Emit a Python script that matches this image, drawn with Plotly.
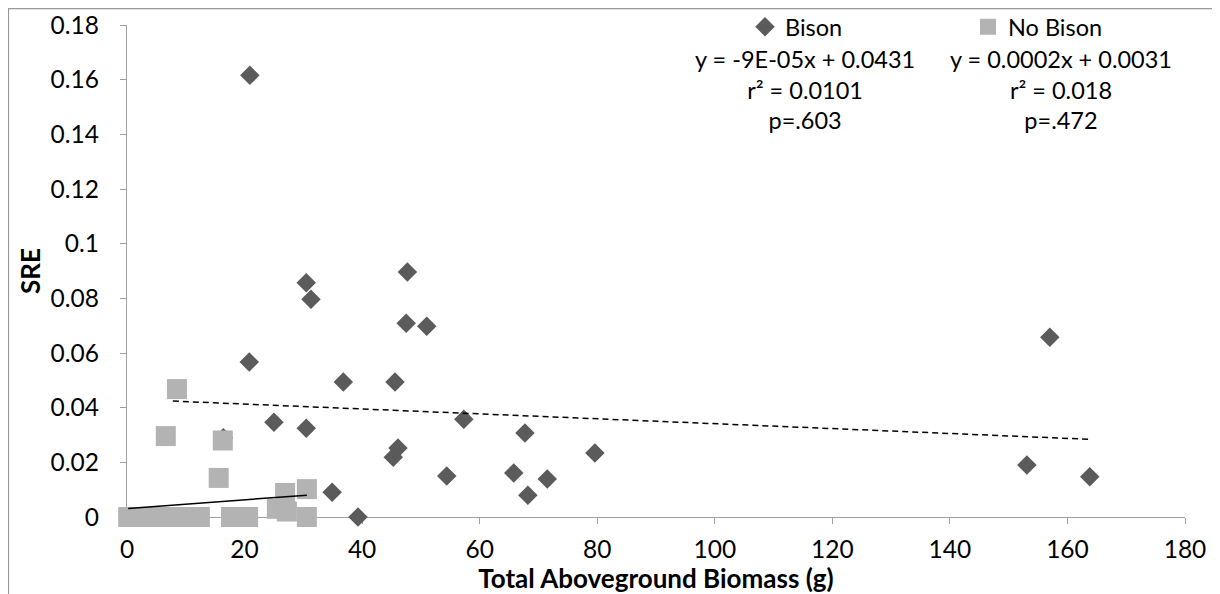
import plotly.graph_objects as go

# ---------------- data ----------------
x_tick_vals = [0, 20, 40, 60, 80, 100, 120, 140, 160, 180]
y_tick_vals = [0, 0.02, 0.04, 0.06, 0.08, 0.10, 0.12, 0.14, 0.16, 0.18]
y_tick_text = ["0", "0.02", "0.04", "0.06", "0.08", "0.1", "0.12", "0.14", "0.16", "0.18"]

bison_x = [7.8, 20.9, 20.8, 16.4, 25.0, 30.5, 31.3, 30.5, 36.8, 34.9, 39.3,
           47.7, 47.5, 51.0, 45.6, 57.3, 67.7, 79.6, 46.1, 45.3, 54.4, 65.8,
           71.5, 68.2, 157.0, 153.1, 163.8]
bison_y = [0.0, 0.1616, 0.0567, 0.029, 0.0347, 0.0857, 0.0797, 0.0325, 0.0494, 0.0091, 0.0,
           0.0896, 0.0709, 0.0698, 0.0494, 0.0358, 0.0307, 0.0234, 0.0252, 0.0219, 0.015, 0.0161,
           0.0139, 0.008, 0.0658, 0.019, 0.0147]

nobison_x = [0.2, 2.4, 4.6, 7.0, 9.3, 11.0, 12.4, 17.7, 19.2, 20.6,
             8.5, 6.6, 16.3, 15.6, 26.9, 30.6, 25.5, 27.2, 30.6]
nobison_y = [0.0, 0.0, 0.0, 0.0, 0.0, 0.0, 0.0, 0.0, 0.0, 0.0,
             0.0468, 0.0296, 0.028, 0.0143, 0.0088, 0.0102, 0.003, 0.002, 0.0]

# linear trend lines (slope, intercept)
bison_fit = (-0.0000897, 0.0431)
nobison_fit = (0.00016, 0.0031)

series_names = ["Bison", "No Bison"]
bison_stats = ["y = -9E-05x + 0.0431", "r\u00b2 = 0.0101", "p=.603"]
nobison_stats = ["y = 0.0002x + 0.0031", "r\u00b2 = 0.018", "p=.472"]

x_title = "Total Aboveground Biomass (g)"
y_title = "SRE"

# ---------------- style ----------------
FONT = "Lato"
DARK = "#5b5b5b"
LIGHT = "#b3b3b3"
AXIS = "#a0a0a0"

OFF = 8  # page body margin in the browser
W, H = 1220 - OFF, 594 - OFF
ML, MT = 127 - OFF, 25 - OFF
MR = W - (1185 - OFF)
MB = H - (517 - OFF)
PW, PH = W - ML - MR, H - MT - MB


def px_x(p):
    # p: pixel x in the reference screenshot -> paper coordinate
    return (p - OFF - ML) / PW


def px_y(p):
    return (H - MB - (p - OFF)) / PH


fig = go.Figure()

fig.add_trace(go.Scatter(
    x=bison_x, y=bison_y, mode="markers", name=series_names[0],
    marker=dict(symbol="diamond", size=15, color=DARK, line=dict(width=0)),
    cliponaxis=False, legend="legend",
))
fig.add_trace(go.Scatter(
    x=nobison_x, y=nobison_y, mode="markers", name=series_names[1],
    marker=dict(symbol="square", size=20, color=LIGHT, line=dict(width=0)),
    cliponaxis=False, legend="legend2",
))

bx = [min(bison_x), max(bison_x)]
fig.add_trace(go.Scatter(
    x=bx, y=[bison_fit[0] * v + bison_fit[1] for v in bx], mode="lines",
    line=dict(color="black", width=1.5, dash="6px,4px"), showlegend=False,
    hoverinfo="skip",
))
nx = [min(nobison_x), max(nobison_x)]
fig.add_trace(go.Scatter(
    x=nx, y=[nobison_fit[0] * v + nobison_fit[1] for v in nx], mode="lines",
    line=dict(color="black", width=1.5), showlegend=False, hoverinfo="skip",
))

tickfont = dict(family=FONT, size=24.5, color="black")

fig.update_layout(
    width=W, height=H,
    margin=dict(l=ML, r=MR, t=MT, b=MB, autoexpand=False),
    paper_bgcolor="white", plot_bgcolor="white",
    font=dict(family=FONT, color="black"),
    showlegend=True,
    legend=dict(x=px_x(745), y=px_y(27), xanchor="left", yanchor="middle",
                orientation="h", font=dict(family=FONT, size=23.5),
                bgcolor="rgba(0,0,0,0)", itemclick=False),
    legend2=dict(x=px_x(968), y=px_y(27), xanchor="left", yanchor="middle",
                 orientation="h", font=dict(family=FONT, size=23.5),
                 bgcolor="rgba(0,0,0,0)", itemclick=False),
    xaxis=dict(
        range=[0, 180], tickvals=x_tick_vals, showgrid=False, zeroline=False,
        showline=True, linecolor=AXIS, linewidth=1.3, ticks="outside",
        ticklen=6, tickcolor=AXIS, tickwidth=1.3, tickfont=tickfont,
        ticklabelstandoff=4, layer="below traces", automargin=False,
        title=dict(text="<b>" + x_title + "</b>",
                   font=dict(family=FONT, size=26), standoff=0),
    ),
    yaxis=dict(
        range=[0, 0.18], tickvals=y_tick_vals, ticktext=y_tick_text,
        showgrid=False, zeroline=False, showline=True, linecolor=AXIS,
        linewidth=1.3, ticks="outside", ticklen=6, tickcolor=AXIS, tickwidth=1.3,
        tickfont=tickfont, ticklabelstandoff=16, layer="below traces",
        automargin=False,
        title=dict(text="<b>" + y_title + "</b>",
                   font=dict(family=FONT, size=26), standoff=2),
    ),
    shapes=[dict(
        type="path", xref="paper", yref="paper",
        path="M {x0},{y0} L {x0},{y1} L {x2},{y1}".format(
            x0=px_x(8.5), y0=px_y(620), y1=px_y(8.7), x2=px_x(1240)),
        line=dict(color="#999999", width=1.2),
    )],
    annotations=[
        dict(xref="paper", yref="paper", x=px_x(805), y=px_y(89),
             xanchor="center", yanchor="middle", showarrow=False,
             text="<br>".join(bison_stats), align="center",
             font=dict(family=FONT, size=23.5, color="black")),
        dict(xref="paper", yref="paper", x=px_x(1061), y=px_y(89),
             xanchor="center", yanchor="middle", showarrow=False,
             text="<br>".join(nobison_stats), align="center",
             font=dict(family=FONT, size=23.5, color="black")),
    ],
)

fig.write_html("out.html")
